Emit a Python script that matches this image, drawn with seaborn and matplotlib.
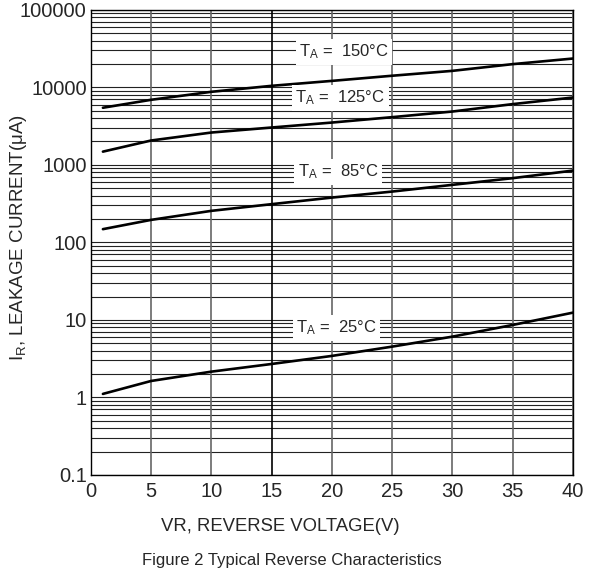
import numpy as np
import pandas as pd
import matplotlib
matplotlib.use("Agg")
import matplotlib.pyplot as plt
import seaborn as sns

# reverse voltage (V) and leakage current (uA)
vr = [1, 5, 10, 15, 20, 25, 30, 35, 40]
ir_150 = [5450, 6900, 8750, 10450, 12100, 14100, 16300, 19900, 23500]
ir_125 = [1480, 2060, 2610, 3030, 3510, 4120, 4870, 6070, 7380]
ir_85 = [148, 195, 255, 311, 378, 452, 552, 673, 843]
ir_25 = [1.11, 1.63, 2.15, 2.7, 3.43, 4.52, 6.08, 8.6, 12.4]

temps = ['150', '125', '85', '25']
label_x = [21.0, 20.7, 20.5, 20.4]
label_y = [28700, 7330, 813, 7.9]

y_ticks = [0.1, 1, 10, 100, 1000, 10000, 100000]
y_tick_labels = ['0.1', '1', '10', '100', '1000', '10000', '100000']
x_ticks = [0, 5, 10, 15, 20, 25, 30, 35, 40]

sns.set_style("white")
plt.rcParams['font.family'] = ['Liberation Sans', 'DejaVu Sans']
plt.rcParams['mathtext.default'] = 'regular'

rows = []
for t, vals in zip(temps, [ir_150, ir_125, ir_85, ir_25]):
    for v, i in zip(vr, vals):
        rows.append({'vr': v, 'ir': i, 'temp': t})
df = pd.DataFrame(rows)

fig = plt.figure(figsize=(5.9, 5.75), dpi=100)
ax = fig.add_axes([0.154, 0.174, 0.817, 0.809])

ax.set_yscale('log')
ax.set_xlim(0, 40)
ax.set_ylim(0.1, 100000)

# grid: decades + minor lines, verticals every 5 V
for dec in range(-1, 5):
    for m in range(1, 10):
        yv = m * 10.0 ** dec
        ax.axhline(yv, color='#222222', lw=0.8, zorder=1)
ax.axhline(100000, color='#222222', lw=0.8, zorder=1)
for xv in x_ticks:
    col = 'black' if xv == 15 else '#666666'
    ax.axvline(xv, color=col, lw=1.2, zorder=1)

sns.lineplot(data=df, x='vr', y='ir', units='temp', estimator=None,
             color='black', lw=1.9, ax=ax, zorder=3, legend=False)

for t, lx, ly in zip(temps, label_x, label_y):
    ax.text(lx, ly, 'T$_A$ =  ' + t + '°C', ha='center', va='center',
            fontsize=12, zorder=4,
            bbox=dict(facecolor='white', edgecolor='none', pad=2.5))

ax.set_xticks(x_ticks)
ax.set_xticklabels([str(x) for x in x_ticks], fontsize=14.5)
ax.set_yticks(y_ticks)
ax.set_yticklabels(y_tick_labels, fontsize=14.5)
ax.yaxis.set_minor_locator(matplotlib.ticker.NullLocator())
ax.tick_params(axis='x', length=0, pad=5)
ax.tick_params(axis='y', length=0, pad=3)

for s in ax.spines.values():
    s.set_color('black')
    s.set_linewidth(1.0)

ax.set_xlabel('VR, REVERSE VOLTAGE(V)', fontsize=13.3)
ax.xaxis.set_label_coords(0.394, -0.092)
ax.set_ylabel('I$_R$, LEAKAGE CURRENT(μA)', fontsize=13.5)
ax.yaxis.set_label_coords(-0.128, 0.51)
fig.text(0.495, 0.026, 'Figure 2 Typical Reverse Characteristics',
         ha='center', va='center', fontsize=12)

fig.savefig('out.png', dpi=100)
